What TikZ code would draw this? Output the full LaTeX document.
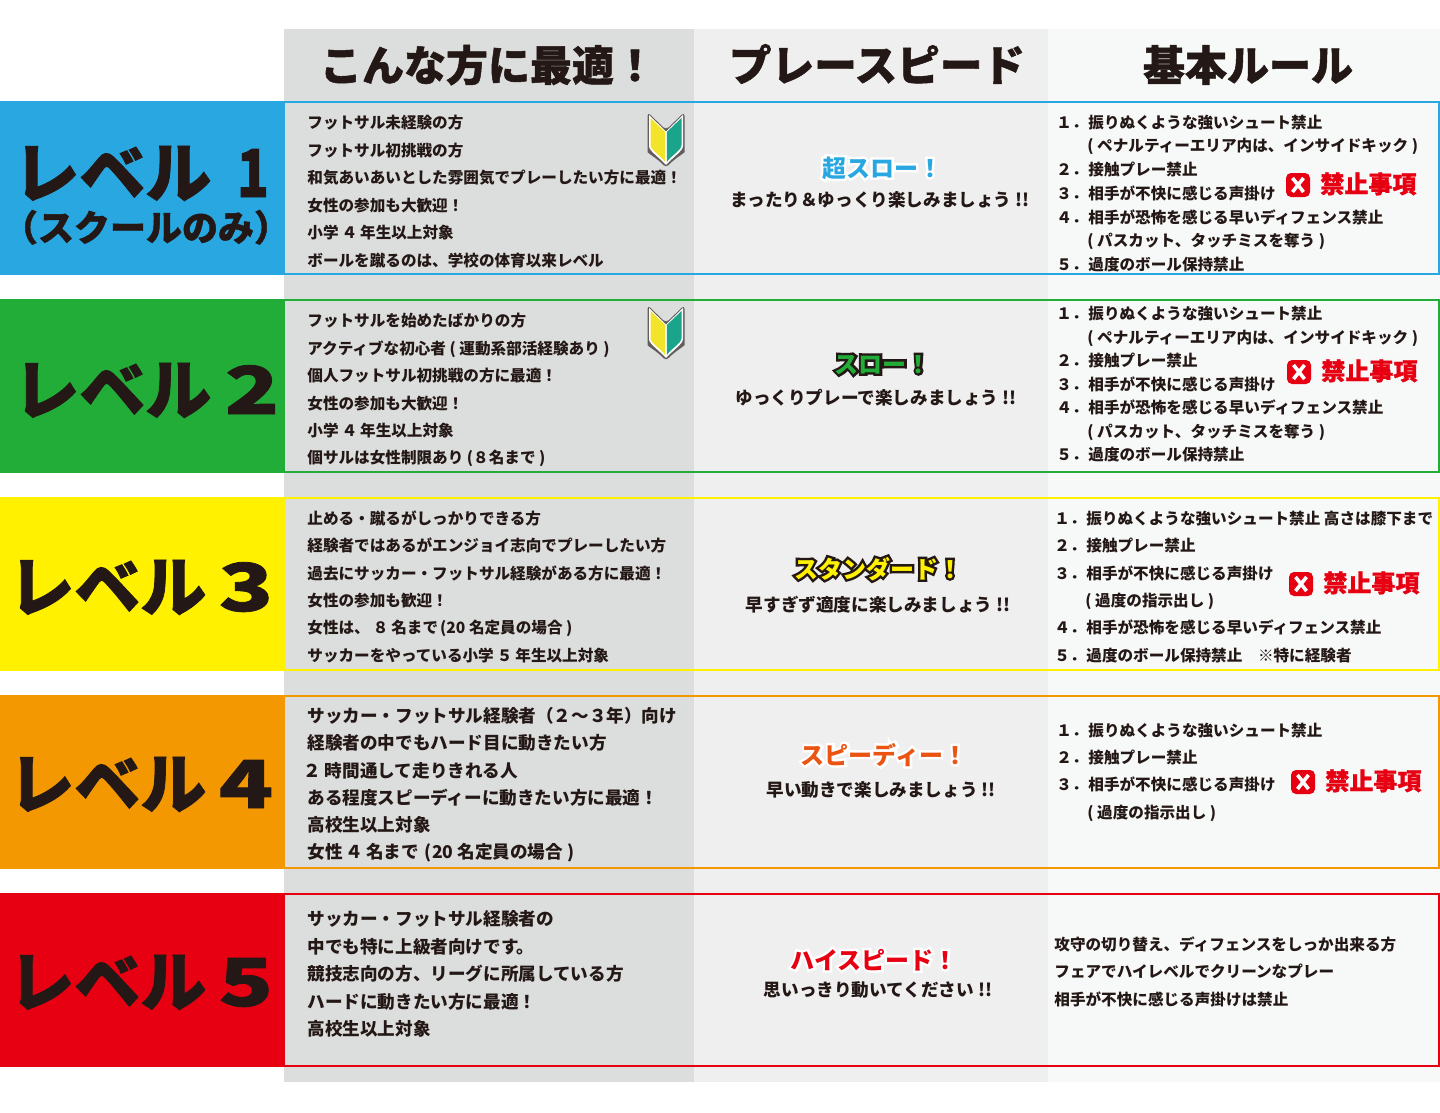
\documentclass[tikz,border=0pt]{standalone}
\usepackage{fontspec}
\newfontfamily\jp{Noto Sans CJK JP}
\newfontfamily\jpo[BoldFeatures={FakeBold=1.2}]{Noto Sans CJK JP}
\newfontfamily\jphalo[BoldFeatures={FakeBold=20}]{Noto Sans CJK JP}
\definecolor{ink}{HTML}{231815}
\definecolor{cA}{HTML}{DCDDDD}
\definecolor{cB}{HTML}{EFEFEF}
\definecolor{cC}{HTML}{F7F8F8}
\definecolor{lvA}{HTML}{29A7E1}
\definecolor{lvB}{HTML}{22AC38}
\definecolor{lvC}{HTML}{FFF100}
\definecolor{lvD}{HTML}{F39800}
\definecolor{lvE}{HTML}{E60012}
\definecolor{org}{HTML}{EA5514}
\definecolor{leafY}{HTML}{F2E42A}
\definecolor{leafG}{HTML}{1BA48C}
\newcounter{nn}
\newcommand\DG[1]{\kern1.5pt#1\kern1.5pt}
\tikzset{
  txt/.style={inner sep=0pt,anchor=base west,text=ink,font=\jp\bfseries\fontsize{7.8}{8}\selectfont},
  big/.style={txt,font=\jp\bfseries\fontsize{8.8}{9}\selectfont},
  rul/.style={txt},
  head/.style={inner sep=0pt,anchor=base,text=ink,font=\jpo\bfseries\fontsize{21}{21}\selectfont},
  lvl/.style={inner sep=0pt,anchor=base west,text=ink,font=\jpo\bfseries\fontsize{33}{33}\selectfont},
  sub/.style={inner sep=0pt,anchor=base,text=ink,font=\jp\bfseries\fontsize{8.8}{9}\selectfont},
  ttl/.style={inner sep=0pt,anchor=base,font=\jp\bfseries\fontsize{12}{12}\selectfont},
  kin/.style={inner sep=0pt,anchor=base west,text=lvE,font=\jpo\bfseries\fontsize{12}{12}\selectfont},
  band/.style={line width=1pt},
  col/.style={fill=#1,draw=none}
}
\newcommand\LT[3]{\stepcounter{nn}\node[txt] (t\arabic{nn}) at (#1,#2+6) {#3};}
\newcommand\LB[3]{\stepcounter{nn}\node[big] (t\arabic{nn}) at (#1,#2+7) {#3};}
\newcommand\RL[4]{\stepcounter{nn}\node[rul] (n\arabic{nn}) at (#1,#2+6) {#3};\node[rul] (t\arabic{nn}) at (#1+32,#2+6) {#4};}
\newcommand\RC[3]{\stepcounter{nn}\node[rul] (t\arabic{nn}) at (#1,#2+6) {#3};}
\newcommand\TT[5]{\stepcounter{nn}%
  \node[ttl,text=#3,font=\jphalo\bfseries\fontsize{12}{12}\selectfont] (h\arabic{nn}) at (#1,#2+9) {#5};
  \node[ttl,text=#4] (f\arabic{nn}) at (#1,#2+9) {#5};}
\newcommand\KIN[3]{\stepcounter{nn}%
  \path[fill=lvE,rounded corners=2.5pt] (#1-12,#2-12) rectangle (#1+12,#2+12);
  \draw[white,line width=1.8pt] (#1-5.5,#2-7) -- (#1+5.5,#2+7) (#1-5.5,#2+7) -- (#1+5.5,#2-7);
  \node[kin] (k\arabic{nn}) at (#3,#2+8) {禁止事項};}
\newcommand\LEAF[2]{\begin{scope}[shift={(#1,#2)}]
  \path[fill=ink!70,rounded corners=2pt] (-18.5,-29) -- (0,-11) -- (18.5,-29) -- (18.5,7) .. controls (18.5,12) and (8,18) .. (0,27) .. controls (-8,18) and (-18.5,12) .. (-18.5,7) -- cycle;
  \path[fill=white] (-17,-26) -- (0,-9.5) -- (17,-26) -- (17,5) .. controls (17,10) and (7,16) .. (0,24) .. controls (-7,16) and (-17,10) .. (-17,5) -- cycle;
  \path[fill=leafY] (-15.5,-23) -- (-.8,-9) -- (-.8,21) .. controls (-6,14) and (-15.5,9) .. (-15.5,4) -- cycle;
  \path[fill=leafG] (15.5,-23) -- (.8,-9) -- (.8,21) .. controls (6,14) and (15.5,9) .. (15.5,4) -- cycle;
\end{scope}}
\begin{document}
\begin{tikzpicture}[x=0.5pt,y=-0.5pt]
\useasboundingbox (0,0) rectangle (1440,1113);
\path[fill=white] (0,0) rectangle (1440,1113);
\path[col=cA] (284,29) rectangle (694,1082);
\path[col=cB] (694,29) rectangle (1048,1082);
\path[col=cC] (1048,29) rectangle (1440,1082);
% headers
\node[head] (h1) at (488,81) {こんな方に最適！};
\node[head,font=\jpo\bfseries\fontsize{21.3}{21}\selectfont] (h2) at (877,81) {プレースピード};
\node[head] (h3) at (1248,81) {基本ルール};
% bands
\path[col=lvA] (0,101) rectangle (285,275);
\draw[band,lvA] (284,102) rectangle (1439,274);
\path[col=lvB] (0,299) rectangle (285,473);
\draw[band,lvB] (284,300) rectangle (1439,472);
\path[col=lvC] (0,497) rectangle (285,671);
\draw[band,lvC] (284,498) rectangle (1439,670);
\path[col=lvD] (0,695) rectangle (285,869);
\draw[band,lvD] (284,696) rectangle (1439,868);
\path[col=lvE] (0,893) rectangle (285,1067);
\draw[band,lvE] (284,894) rectangle (1439,1066);
% level labels
\node[lvl] (l1) at (13,197) {レベル};
\node[lvl,anchor=base,xscale=.8] (d1) at (253,197) {1};
\node[lvl,anchor=base,font=\jpo\bfseries\fontsize{18}{18}\selectfont] (l1b) at (146,241) {（スクールのみ）};
\node[lvl] (l2) at (13,414) {レベル};
\node[lvl,anchor=base,xscale=1.35] (d2) at (252,414) {2};
\node[lvl] (l3) at (8,611) {レベル};
\node[lvl,anchor=base,xscale=1.35] (d3) at (246,611) {3};
\node[lvl] (l4) at (8,808) {レベル};
\node[lvl,anchor=base,xscale=1.35] (d4) at (246,808) {4};
\node[lvl] (l5) at (8,1006) {レベル};
\node[lvl,anchor=base,xscale=1.35] (d5) at (246,1006) {5};
% column 1
\LT{307}{123}{フットサル未経験の方}
\LT{307}{150}{フットサル初挑戦の方}
\LT{307}{178}{和気あいあいとした雰囲気でプレーしたい方に最適！}
\LT{307}{205}{女性の参加も大歓迎！}
\LT{307}{232}{小学\DG{４}年生以上対象}
\LT{307}{260}{ボールを蹴るのは、学校の体育以来レベル}
\LT{307}{320}{フットサルを始めたばかりの方}
\LT{307}{348}{アクティブな初心者 ( 運動系部活経験あり )}
\LT{307}{375}{個人フットサル初挑戦の方に最適！}
\LT{307}{403}{女性の参加も大歓迎！}
\LT{307}{430}{小学\DG{４}年生以上対象}
\LT{307}{457}{個サルは女性制限あり (８名まで )}
\LT{307}{518}{止める・蹴るがしっかりできる方}
\LT{307}{545}{経験者ではあるがエンジョイ志向でプレーしたい方}
\LT{307}{573}{過去にサッカー・フットサル経験がある方に最適！}
\LT{307}{600}{女性の参加も歓迎！}
\LT{307}{627}{女性は、\DG{８}名まで\kern1pt (20 名定員の場合 )}
\LT{307}{655}{サッカーをやっている小学\DG{５}年生以上対象}
\LB{307}{715}{サッカー・フットサル経験者（２～３年）向け}
\LB{307}{742}{経験者の中でもハード目に動きたい方}
\LB{307}{770}{\kern-2pt２\kern2pt時間通して走りきれる人}
\LB{307}{797}{ある程度スピーディーに動きたい方に最適！}
\LB{307}{824}{高校生以上対象}
\LB{307}{851}{女性\DG{４}名まで\kern3pt (20 名定員の場合 )}
\LB{307}{918}{サッカー・フットサル経験者の}
\LB{307}{946}{中でも特に上級者向けです。}
\LB{307}{973}{競技志向の方、リーグに所属している方}
\LB{307}{1001}{ハードに動きたい方に最適！}
\LB{307}{1028}{高校生以上対象}
\LEAF{666}{141}
\LEAF{666}{334}
% column 2
\TT{882}{168}{white}{lvA}{超スロー！}
\node[sub] (s1) at (880,206) {まったり＆ゆっくり楽しみましょう !!};
\TT{882.5}{364}{ink}{lvB}{スロー！}
\node[sub] (s2) at (876,404) {ゆっくりプレーで楽しみましょう !!};
\TT{878}{569}{ink}{lvC}{スタンダード！}
\node[sub] (s3) at (878,611) {早すぎず適度に楽しみましょう !!};
\TT{884}{755}{white}{org}{スピーディー！}
\node[sub] (s4) at (881,796) {早い動きで楽しみましょう !!};
\TT{874}{960}{white}{lvE}{ハイスピード！}
\node[sub] (s5) at (878,996) {思いっきり動いてください !!};
% column 3, level 1
\RL{1056}{123}{１．}{振りぬくような強いシュート禁止}
\RC{1087}{146}{( ペナルティーエリア内は、インサイドキック )}
\RL{1056}{170}{２．}{接触プレー禁止}
\RL{1056}{193}{３．}{相手が不快に感じる声掛け}
\RL{1056}{217}{４．}{相手が恐怖を感じる早いディフェンス禁止}
\RC{1087}{240}{( パスカット、タッチミスを奪う )}
\RL{1056}{264}{５．}{過度のボール保持禁止}
\KIN{1298}{185}{1320}
% level 2
\RL{1056}{313}{１．}{振りぬくような強いシュート禁止}
\RC{1087}{337}{( ペナルティーエリア内は、インサイドキック )}
\RL{1056}{360}{２．}{接触プレー禁止}
\RL{1056}{384}{３．}{相手が不快に感じる声掛け}
\RL{1056}{407}{４．}{相手が恐怖を感じる早いディフェンス禁止}
\RC{1087}{431}{( パスカット、タッチミスを奪う )}
\RL{1056}{454}{５．}{過度のボール保持禁止}
\KIN{1299}{372}{1321}
% level 3
\RL{1054}{518}{１．}{振りぬくような強いシュート禁止 高さは膝下まで}
\RL{1054}{545}{２．}{接触プレー禁止}
\RL{1054}{573}{３．}{相手が不快に感じる声掛け}
\RC{1085}{600}{( 過度の指示出し )}
\RL{1054}{627}{４．}{相手が恐怖を感じる早いディフェンス禁止}
\RL{1054}{655}{５．}{過度のボール保持禁止　※特に経験者}
\KIN{1301}{584}{1323}
% level 4
\RL{1056}{730}{１．}{振りぬくような強いシュート禁止}
\RL{1056}{757}{２．}{接触プレー禁止}
\RL{1056}{784}{３．}{相手が不快に感じる声掛け}
\RC{1087}{812}{( 過度の指示出し )}
\KIN{1303}{782}{1325}
% level 5
\RC{1054}{944}{攻守の切り替え、ディフェンスをしっか出来る方}
\RC{1054}{971}{フェアでハイレベルでクリーンなプレー}
\RC{1054}{999}{相手が不快に感じる声掛けは禁止}
\end{tikzpicture}
\end{document}
